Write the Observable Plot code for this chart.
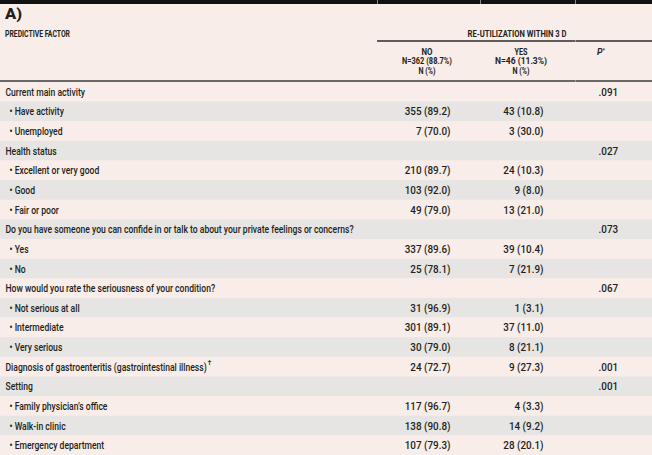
<!DOCTYPE html>
<html>
<head>
<meta charset="utf-8">
<script src="https://cdn.jsdelivr.net/npm/d3@7"></script>
<script src="https://cdn.jsdelivr.net/npm/@observablehq/plot@0.6"></script>
<style>
  html, body { margin: 0; padding: 0; background: #ffffff; overflow: hidden; }
  #wrap { position: relative; width: 652px; font-family: Roboto, "Liberation Sans", sans-serif; color: #231f20; }
  #head { position: relative; width: 652px; height: 82px; background: #f8ede8; }
  .abs { position: absolute; white-space: nowrap; line-height: 1; }
  .b { font-weight: bold; }
  .rule { position: absolute; }
  #body svg { display: block; }
</style>
</head>
<body>
<div id="wrap">
  <div id="head"></div>
  <div id="body"></div>
</div>
<script>
// ---------- data ----------
const panel = "A)";
const factorHeader = "PREDICTIVE FACTOR";
const groupHeader = "RE-UTILIZATION WITHIN 3 D";
const colHeadersNo = ["NO", "N=362 (88.7%)", "N (%)"];
const colHeadersYes = ["YES", "N=46 (11.3%)", "N (%)"];
const pHeader = "P";

const labels = [
  "Current main activity",
  "Have activity",
  "Unemployed",
  "Health status",
  "Excellent or very good",
  "Good",
  "Fair or poor",
  "Do you have someone you can confide in or talk to about your private feelings or concerns?",
  "Yes",
  "No",
  "How would you rate the seriousness of your condition?",
  "Not serious at all",
  "Intermediate",
  "Very serious",
  "Diagnosis of gastroenteritis (gastrointestinal illness)",
  "Setting",
  "Family physician\u2019s office",
  "Walk-in clinic",
  "Emergency department"
];
const isSubItem = [0,1,1,0,1,1,1,0,1,1,0,1,1,1,0,0,1,1,1];
const labelNote = [null,null,null,null,null,null,null,null,null,null,null,null,null,null,"\u2020",null,null,null,null];
const noCounts = [null,355,7,null,210,103,49,null,337,25,null,31,301,30,24,null,117,138,107];
const noPct    = [null,89.2,70.0,null,89.7,92.0,79.0,null,89.6,78.1,null,96.9,89.1,79.0,72.7,null,96.7,90.8,79.3];
const yesCounts = [null,43,3,null,24,9,13,null,39,7,null,1,37,8,9,null,4,14,28];
const yesPct    = [null,10.8,30.0,null,10.3,8.0,21.0,null,10.4,21.9,null,3.1,11.0,21.1,27.3,null,3.3,9.2,20.1];
const pValues = [".091",null,null,".027",null,null,null,".073",null,null,".067",null,null,null,".001",".001",null,null,null];

// ---------- layout / style ----------
const PINK = "#f8ede8", GRAY = "#e6e5e3", INK = "#231f20";
const FONT = 'Roboto, "Liberation Sans", sans-serif';
const BODY_SIZE = 11, BODY_WEIGHT = 500;
const COL = { no: 450, yes: 543, p: 598 };
const INDENT = { top: 5, sub: 9 };
const SQUEEZE_LABEL = 0.78;   // condensed look for labels
const SQUEEZE_NUM = 0.9;      // condensed look for numbers

// text measurement (for placing superscript notes after labels)
const measureCtx = document.createElement("canvas").getContext("2d");
measureCtx.font = `${BODY_WEIGHT} ${BODY_SIZE}px ${FONT}`;

const rows = labels.map((label, i) => {
  const text = (isSubItem[i] ? "\u2022 " : "") + label;
  const indent = isSubItem[i] ? INDENT.sub : INDENT.top;
  return {
    id: String(i),
    label: text,
    sub: !!isSubItem[i],
    note: labelNote[i],
    noteX: indent + measureCtx.measureText(text).width * SQUEEZE_LABEL + 1,
    no: noCounts[i] == null ? null : `${noCounts[i]} (${noPct[i].toFixed(1)})`,
    yes: yesCounts[i] == null ? null : `${yesCounts[i]} (${yesPct[i].toFixed(1)})`,
    p: pValues[i],
    bg: i % 2 === 0 ? PINK : GRAY
  };
});

// ---------- header (HTML, above the SVG) ----------
const head = document.getElementById("head");
// place a bold header text, compressed horizontally to a target width
function addText(txt, x, y, anchor, size, width, extra = "") {
  const el = document.createElement("div");
  el.className = "abs b";
  el.style.left = x + "px";
  el.style.top = y + "px";
  el.style.fontSize = size + "px";
  if (extra) el.style.cssText += extra;
  el.innerHTML = txt;
  head.appendChild(el);
  const box = el.getBoundingClientRect();
  const k = width ? width / box.width : 0.85;
  el.style.transformOrigin = "0 0";
  const tx = anchor === "middle" ? -box.width * k / 2 : 0;
  el.style.transform = `translate(${tx}px, ${-box.height / 2}px) scaleX(${k})`;
  return el;
}
function addRule(x, y, w, h, color) {
  const el = document.createElement("div");
  el.className = "rule";
  Object.assign(el.style, { left: x + "px", top: y + "px", width: w + "px", height: h + "px", background: color });
  head.appendChild(el);
}
addRule(0, 0, 652, 4, "#111");
[377, 480, 575].forEach(x => addRule(x, 0, 1, 4, "#8a8785"));
addText(panel, 5, 14, "start", 14, 17, "font-weight:900;");
addText(factorHeader, 5, 34, "start", 9, 65);
addText(groupHeader, 517, 34, "middle", 9, 99);
addRule(377, 40, 275, 2, "#5f5c5b");
addRule(575, 40, 1, 2, "#a09c9a");
const hdrW = [11, 50, 17], hdrWY = [13, 52, 17];
colHeadersNo.forEach((t, i) => addText(t, 427, 52 + i * 9.3, "middle", 8.8, hdrW[i]));
colHeadersYes.forEach((t, i) => addText(t, 521, 52 + i * 9.3, "middle", 8.8, hdrWY[i]));
addText(`<i>${pHeader}</i><sup style="font-size:5.5px;vertical-align:3px">*</sup>`, 597, 52, "start", 8.8, 8);
addRule(0, 80, 652, 2, "#6b6968");
addRule(575, 80, 1, 2, "#a09c9a");

// ---------- body (Observable Plot) ----------
const chart = Plot.plot({
  width: 652,
  height: 373,
  margin: 0,
  style: { fontFamily: FONT, color: INK, background: PINK, fontSize: BODY_SIZE + "px", fontWeight: BODY_WEIGHT },
  x: { domain: [0, 652], axis: null },
  y: { type: "band", domain: rows.map(d => d.id), padding: 0, round: false, axis: null },
  marks: [
    Plot.cell(rows, { y: "id", fill: "bg", inset: 0 }),
    Plot.text(rows.filter(d => !d.sub), { y: "id", text: "label", frameAnchor: "left", dx: INDENT.top, fill: INK, className: "lbl" }),
    Plot.text(rows.filter(d => d.sub), { y: "id", text: "label", frameAnchor: "left", dx: INDENT.sub, fill: INK, className: "lbl" }),
    Plot.text(rows.filter(d => d.note), { x: "noteX", y: "id", text: "note", textAnchor: "start", dy: -4, fontSize: 6.5, fill: INK }),
    Plot.text(rows.filter(d => d.no), { x: () => COL.no, y: "id", text: "no", textAnchor: "end", fill: INK, className: "num" }),
    Plot.text(rows.filter(d => d.yes), { x: () => COL.yes, y: "id", text: "yes", textAnchor: "end", fill: INK, className: "num" }),
    Plot.text(rows.filter(d => d.p), { x: () => COL.p, y: "id", text: "p", textAnchor: "start", fill: INK, className: "num" })
  ]
});
document.getElementById("body").appendChild(chart);

// condensed look: compress each text horizontally about its anchor
function squeeze(selector, k) {
  d3.select(chart).selectAll(selector + " text").each(function () {
    const len = this.getComputedTextLength();
    this.setAttribute("textLength", (len * k).toFixed(2));
    this.setAttribute("lengthAdjust", "spacingAndGlyphs");
  });
}
squeeze(".lbl", SQUEEZE_LABEL);
squeeze(".num", SQUEEZE_NUM);
</script>
</body>
</html>
